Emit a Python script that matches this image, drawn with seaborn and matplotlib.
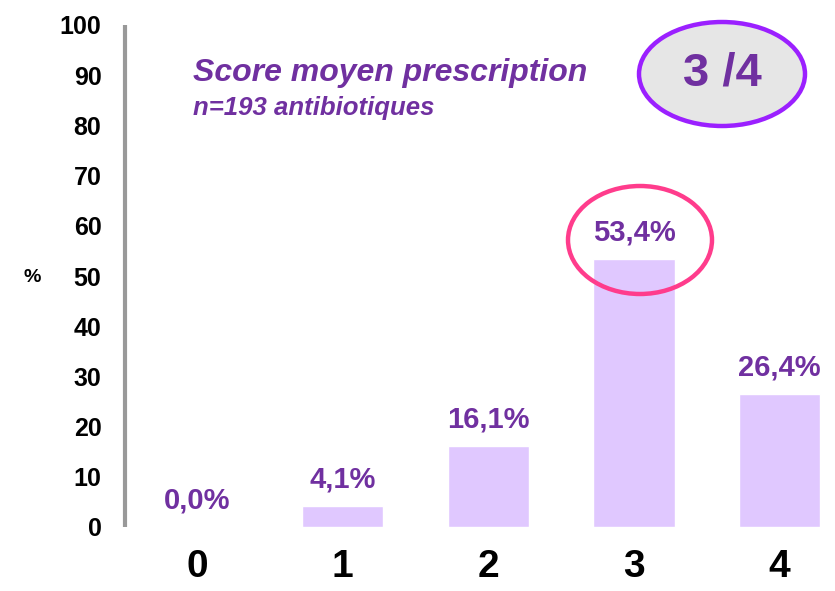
import matplotlib
matplotlib.use("Agg")
import matplotlib.pyplot as plt
from matplotlib.patches import Ellipse
import seaborn as sns
import pandas as pd

# Distribution of prescription scores
scores = ["0", "1", "2", "3", "4"]
percents = [0.0, 4.1, 16.1, 53.4, 26.4]
value_labels = ["0,0%", "4,1%", "16,1%", "53,4%", "26,4%"]
y_ticks = [0, 10, 20, 30, 40, 50, 60, 70, 80, 90, 100]

title = "Score moyen prescription"
subtitle = "n=193 antibiotiques"
mean_score = "3 /4"

PURPLE = "#7030A0"
BAR = "#E0C8FF"
PINK = "#FF3C8C"
VIOLET = "#9B20FF"

sns.set_theme(style="white")
plt.rcParams["font.family"] = ["Liberation Sans", "DejaVu Sans"]

W, H = 835, 591
fig = plt.figure(figsize=(W / 100, H / 100), dpi=100)


def fx(px):
    return px / W


def fy(py):
    return 1 - py / H


ax = fig.add_axes([fx(125), fy(527), fx(835 - 125), fy(25) - fy(527)])

df = pd.DataFrame({"score": scores, "pct": percents})
sns.barplot(data=df, x="score", y="pct", color=BAR, saturation=1,
            width=0.56, ax=ax)

ax.set_xlim(-0.494, 4.38)
ax.set_ylim(0, 100)
ax.set_yticks(y_ticks)
ax.set_yticklabels([str(t) for t in y_ticks], fontsize=18,
                   fontweight="bold", color="black")
ax.set_xticks(range(len(scores)))
ax.set_xticklabels(scores, fontsize=28, fontweight="bold", color="black")
ax.tick_params(axis="y", length=0, pad=17)
ax.tick_params(axis="x", length=0, pad=16)
ax.set_xlabel("")
ax.set_ylabel("")

for side in ["top", "right", "bottom"]:
    ax.spines[side].set_visible(False)
ax.spines["left"].set_color("#999999")
ax.spines["left"].set_linewidth(3)
ax.spines["left"].set_capstyle("butt")

for i, (v, lab) in enumerate(zip(percents, value_labels)):
    ax.annotate(lab, (i, v), xytext=(0, 9), textcoords="offset points",
                ha="center", va="bottom", fontsize=21, fontweight="bold",
                color=PURPLE)

fig.text(fx(32), fy(277), "%", fontsize=14, fontweight="bold",
         ha="center", va="center", color="black")

fig.text(fx(193), fy(73), title, fontsize=23, fontweight="bold",
         fontstyle="italic", color=PURPLE, ha="left", va="center")
fig.text(fx(193), fy(108), subtitle, fontsize=18.5, fontweight="bold",
         fontstyle="italic", color=PURPLE, ha="left", va="center")

# Mean score badge
badge = Ellipse((fx(722), fy(74)), fx(166), 104 / H, transform=fig.transFigure,
                facecolor="#E6E6E6", edgecolor=VIOLET, linewidth=3.2,
                zorder=5)
fig.add_artist(badge)
fig.text(fx(722), fy(74), mean_score, fontsize=34, fontweight="bold",
         color=PURPLE, ha="center", va="center", zorder=6)

# Highlight the dominant score
highlight = Ellipse((fx(640), fy(240)), fx(144), 108 / H,
                    transform=fig.transFigure, facecolor="none",
                    edgecolor=PINK, linewidth=3.2, zorder=5)
fig.add_artist(highlight)

fig.savefig("out.png", dpi=100)
